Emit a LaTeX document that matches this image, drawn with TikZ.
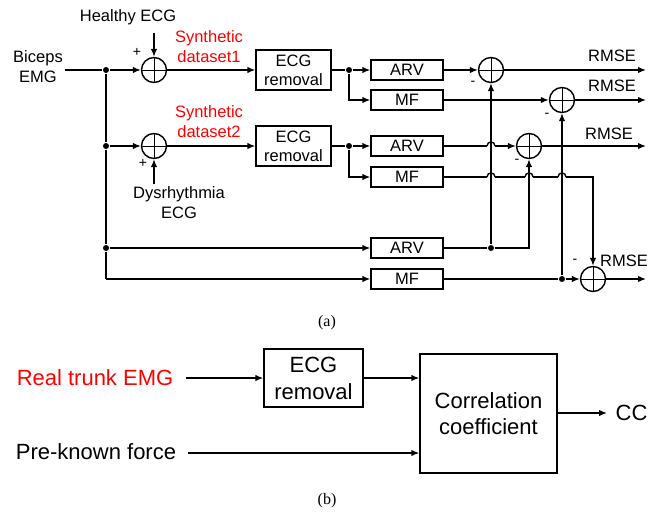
\documentclass[tikz,border=0pt]{standalone}
\usepackage{fontspec}
\setmainfont{Liberation Sans}
\newfontfamily\capfont{Liberation Serif}
\usetikzlibrary{arrows.meta}

\newcommand{\fa}{\fontsize{16.5}{20}\selectfont}
\newcommand{\fb}{\fontsize{22}{27}\selectfont}
\newcommand{\fc}{\fontsize{16}{19}\selectfont}

\begin{document}
\begin{tikzpicture}[x=1pt, y=-1pt, line width=1.4pt,
    >={Latex[length=8pt,width=6.5pt]},
    blk/.style={draw, minimum width=72pt, minimum height=20pt, inner sep=0pt, font=\fa},
    ecgbox/.style={draw, minimum width=75pt, minimum height=40pt, inner sep=0pt,
        align=center, font=\fontsize{16.5}{19}\selectfont},
    sumnode/.style={draw, circle, minimum size=25pt, inner sep=0pt,
        path picture={\draw[line width=1pt] (path picture bounding box.north) -- (path picture bounding box.south)
            (path picture bounding box.west) -- (path picture bounding box.east);}},
    dot/.style={circle, fill, inner sep=0pt, minimum size=6pt},
    txt/.style={font=\fa, align=center, inner sep=0pt},
    sign/.style={font=\fontsize{14}{14}\selectfont, inner sep=0pt}]

\useasboundingbox (0,0) rectangle (659,514);

% (a) inputs
\node[txt] (emg) at (38,67) {Biceps\\EMG};
\node[txt] (healthy) at (128,17) {Healthy ECG};
\node[txt] (dys) at (179,203) {Dysrhythmia\\ECG};
\node[txt, text=red] (syn1) at (209,47) {Synthetic\\dataset1};
\node[txt, text=red] (syn2) at (209,122) {Synthetic\\dataset2};

\coordinate (h1) at (154,33);
\coordinate (d1) at (154,184);
\node[dot] (j1) at (106,70) {};
\node[dot] (j2) at (106,146) {};
\node[dot] (j3) at (106,248) {};
\coordinate (c1) at (106,279);

% adders
\node[sumnode] (s1) at (154,70) {};
\node[sumnode] (s2) at (154,146) {};
\node[sign] at (137,52) {+};
\node[sign] at (143,163) {+};

% ECG removal
\node[ecgbox] (ecg1) at (293.5,70) {ECG\\removal};
\node[ecgbox] (ecg2) at (293.5,146) {ECG\\removal};
\node[dot] (j4) at (349,70) {};
\node[dot] (j7) at (349,146) {};

% feature blocks
\node[blk] (arv1) at (407,70) {ARV};
\node[blk] (mf1) at (407,100) {MF};
\node[blk] (arv2) at (407,146) {ARV};
\node[blk] (mf2) at (407,177) {MF};
\node[blk] (arv3) at (407,248) {ARV};
\node[blk] (mf3) at (407,279) {MF};

% error adders
\node[sumnode] (sA) at (491,70) {};
\node[sumnode] (sB) at (562,100) {};
\node[sumnode] (sC) at (529,146) {};
\node[sumnode] (sD) at (593,279) {};
\node[sign] at (473,83) {-};
\node[sign] at (547,115) {-};
\node[sign] at (517,161) {-};
\node[sign] at (575,261) {-};
\node[dot] (j5) at (491,248) {};
\node[dot] (j6) at (562,279) {};

\coordinate (oA) at (646,70);
\coordinate (oB) at (646,100);
\coordinate (oC) at (646,146);
\coordinate (oD) at (646,279);
\node[txt] (rA) at (612,56) {RMSE};
\node[txt] (rB) at (612,86) {RMSE};
\node[txt] (rC) at (609,134) {RMSE};
\node[txt] (rD) at (624,261) {RMSE};

% connections
\draw ([xshift=2pt]emg.east |- j1) -- (j1);
\draw (j1) -- (j2) -- (j3) -- (c1);
\draw[->] (j1) -- (s1.west);
\draw[->] (j2) -- (s2.west);
\draw[->] (h1) -- (s1.north);
\draw[->] (d1) -- (s2.south);
\draw[->] (s1.east) -- (ecg1.west);
\draw[->] (s2.east) -- (ecg2.west);
\draw[->] (j3) -- (arv3.west);
\draw[->] (c1) -- (mf3.west);

\draw (ecg1.east) -- (j4);
\draw[->] (j4) -- (arv1.west);
\draw[->] (j4) |- (mf1.west);
\draw (ecg2.east) -- (j7);
\draw[->] (j7) -- (arv2.west);
\draw[->] (j7) |- (mf2.west);

\draw[->] (arv1.east) -- (sA.west);
\draw[->] (mf1.east) -- (sB.west);

% line hops
\draw (arv2.east) -- (487,146);
\draw (487,146) .. controls (487,140.7) and (495,140.7) .. (495,146);
\draw[->] (495,146) -- (sC.west);
\draw (mf2.east) -- (487,177);
\draw (487,177) .. controls (487,171.7) and (495,171.7) .. (495,177);
\draw (495,177) -- (525,177);
\draw (525,177) .. controls (525,171.7) and (533,171.7) .. (533,177);
\draw (533,177) -- (558,177);
\draw (558,177) .. controls (558,171.7) and (566,171.7) .. (566,177);
\draw[->] (566,177) -| (sD.north);

\draw (arv3.east) -- (j5);
\draw[->] (j5) -- (sA.south);
\draw[->] (j5) -| (sC.south);
\draw (mf3.east) -- (j6);
\draw[->] (j6) -- (sB.south);
\draw[->] (j6) -- (sD.west);

\draw[->] (sA.east) -- (oA);
\draw[->] (sB.east) -- (oB);
\draw[->] (sC.east) -- (oC);
\draw[->] (sD.east) -- (oD);

\node[font=\capfont\fc] (capa) at (327,323) {(a)};

% (b)
\node[font=\fb, text=red, inner sep=0pt] (real) at (95,378) {Real trunk EMG};
\node[font=\fb, inner sep=0pt] (force) at (96,452) {Pre-known force};
\node[draw, minimum width=99pt, minimum height=58pt, inner sep=0pt, align=center,
    font=\fontsize{22}{27}\selectfont] (ecgb) at (313.5,378) {ECG\\removal};
\node[draw, minimum width=137pt, minimum height=119pt, inner sep=0pt, align=center,
    font=\fontsize{22}{26}\selectfont] (corr) at (488.5,413.5) {Correlation\\coefficient};
\node[font=\fb, anchor=west, inner sep=0pt] (cc) at (615,413) {CC};

\draw[->] ([xshift=12pt]real.east) -- (ecgb.west);
\draw[->] (ecgb.east) -- (corr.west |- ecgb.east);
\draw[->] ([xshift=11pt]force.east |- 0,453) -- (corr.west |- 0,453);
\draw[->] (corr.east |- cc.west) -- ([xshift=-8pt]cc.west);

\node[font=\capfont\fc] (capb) at (327,501) {(b)};

\end{tikzpicture}
\end{document}
